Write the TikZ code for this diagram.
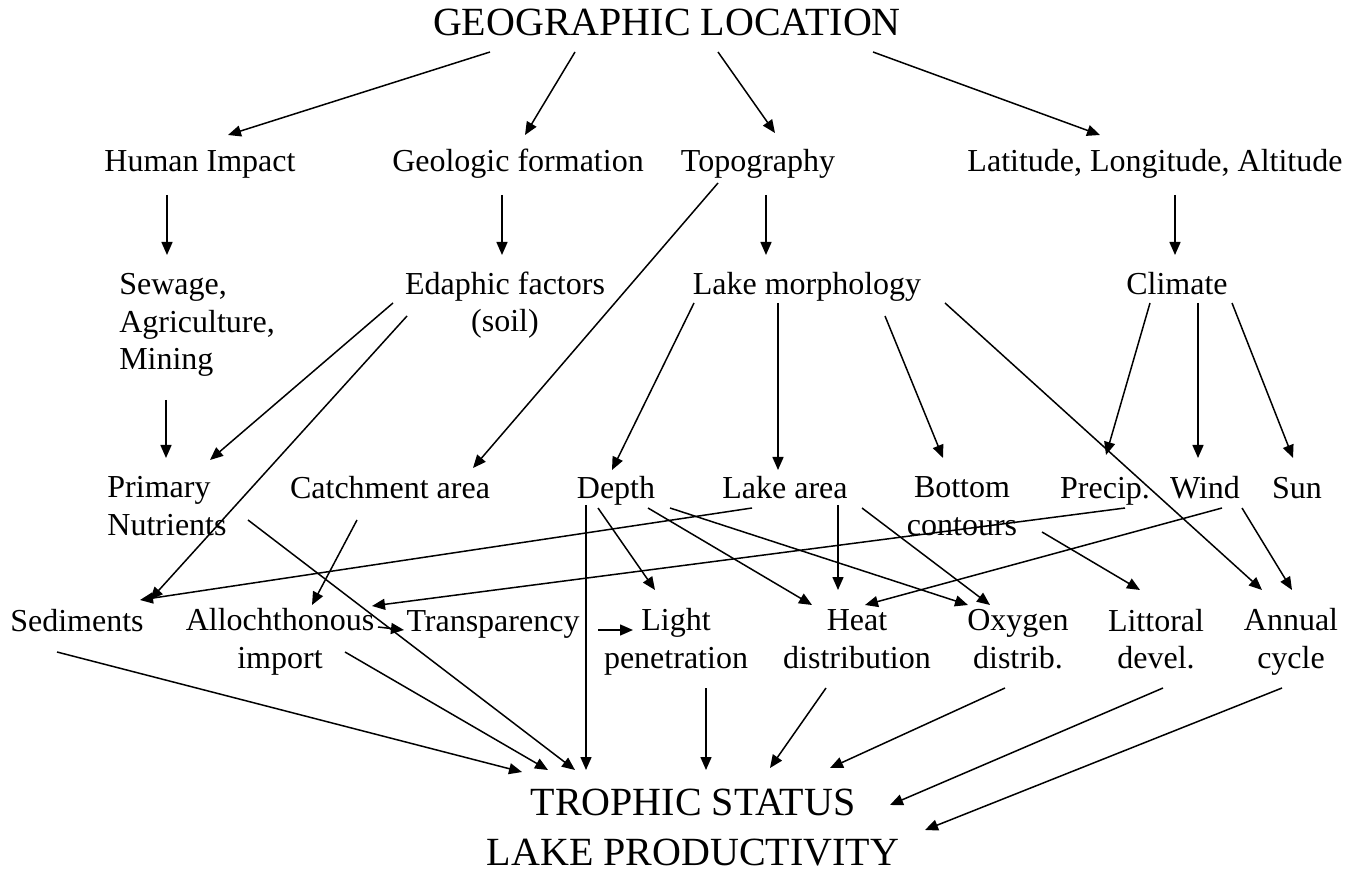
\documentclass[tikz,border=0pt]{standalone}
\usepackage{fontspec}
\setmainfont{Liberation Serif}
\usetikzlibrary{arrows.meta}

\begin{document}
\begin{tikzpicture}[x=0.5pt,y=-0.5pt,
  lbl/.style={inner sep=0pt, align=center, font=\fontsize{16}{18.75}\selectfont},
  one/.style={lbl, text height=11pt, text depth=0pt},
  ttl/.style={inner sep=0pt, align=center, font=\fontsize{20}{25}\selectfont},
  arr/.style={line width=0.75pt, -{Triangle[length=6.5pt,width=5.5pt]}}]
\useasboundingbox (0,0) rectangle (1355,871);

%top
\node[ttl] (geo) at (667,22) {GEOGRAPHIC LOCATION};
\node[one] (hum) at (200,161) {Human Impact};
\node[one] (geol) at (518,161) {Geologic formation};
\node[one] (topo) at (758,161) {Topography};
\node[one] (lat) at (1155,161) {Latitude, Longitude, Altitude};
%second row
\node[lbl,align=left] (sew) at (197,325) {Sewage,\\Agriculture,\\Mining};
\node[lbl] (eda) at (505,305) {Edaphic factors\\(soil)};
\node[one] (morph) at (807,284) {Lake morphology};
\node[one] (clim) at (1177,284) {Climate};
%third row
\node[lbl,align=left] (prim) at (167,506) {Primary\\Nutrients};
\node[one] (catch) at (390,488) {Catchment area};
\node[one] (dep) at (616,488) {Depth};
\node[one] (larea) at (785,488) {Lake area};
\node[lbl] (bott) at (962,506) {Bottom\\contours};
\node[one] (prec) at (1105,488) {Precip.};
\node[one] (wind) at (1205,488) {Wind};
\node[one] (sun) at (1297,488) {Sun};
%fourth row
\node[one] (sed) at (77,620) {Sediments};
\node[lbl] (allo) at (280,642) {Allochthonous\\import};
\node[one] (trans) at (493,620) {Transparency};
\node[lbl] (light) at (676,642) {Light\\penetration};
\node[lbl] (heat) at (857,639) {Heat\\distribution};
\node[lbl] (oxy) at (1018,639) {Oxygen\\distrib.};
\node[lbl] (litt) at (1156,639) {Littoral\\devel.};
\node[lbl] (ann) at (1291,642) {Annual\\cycle};
%bottom
\node[ttl] (troph) at (693,828) {TROPHIC STATUS\\LAKE PRODUCTIVITY};

%-------------------------------------------------
\draw[arr] ([shift={(-177,30)}]geo.center) -- ([shift={(28,-26)}]hum.center);
\draw[arr] ([shift={(-92,30)}]geo.center) -- ([shift={(7,-26)}]geol.center);
\draw[arr] ([shift={(51,30)}]geo.center) -- ([shift={(17,-28)}]topo.center);
\draw[arr] ([shift={(206,30)}]geo.center) -- ([shift={(-55,-26)}]lat.center);

\draw[arr] ([shift={(-33,34)}]hum.center) -- ([shift={(-30,-70)}]sew.center);
\draw[arr] ([shift={(-16,34)}]geol.center) -- ([shift={(-3,-50)}]eda.center);
\draw[arr] ([shift={(8,34)}]topo.center) -- ([shift={(-41,-29)}]morph.center);
\draw[arr] ([shift={(-40,22)}]topo.center) -- ([shift={(83,-20)}]catch.center);
\draw[arr] ([shift={(20,34)}]lat.center) -- ([shift={(-2,-29)}]clim.center);

%-------------------------------------------------
\draw[arr] ([shift={(-31,75)}]sew.center) -- ([shift={(-1,-48)}]prim.center);
\draw[arr] ([shift={(-112,-2)}]eda.center) -- ([shift={(43,-46)}]prim.center);
\draw[arr] ([shift={(-98,11)}]eda.center) -- ([shift={(73,-20)}]sed.center);
\draw[arr] ([shift={(-113,19)}]morph.center) -- ([shift={(-4,-18)}]dep.center);
\draw[arr] ([shift={(-29,19)}]morph.center) -- ([shift={(-7,-18)}]larea.center);
\draw[arr] ([shift={(78,32)}]morph.center) -- ([shift={(-19,-48)}]bott.center);
\draw[arr] ([shift={(138,19)}]morph.center) -- ([shift={(-29,-52)}]ann.center);
\draw[arr] ([shift={(-27,19)}]clim.center) -- ([shift={(1,-33)}]prec.center);
\draw[arr] ([shift={(21,19)}]clim.center) -- ([shift={(-7,-30)}]wind.center);
\draw[arr] ([shift={(55,19)}]clim.center) -- ([shift={(-4,-30)}]sun.center);

%-------------------------------------------------
\draw[arr] ([shift={(-33,20)}]larea.center) -- ([shift={(63,-20)}]sed.center);
\draw[arr] ([shift={(-33,32)}]catch.center) -- ([shift={(32,-37)}]allo.center);
\draw[arr] ([shift={(20,20)}]prec.center) -- ([shift={(92,-36)}]allo.center);
\draw[arr] ([shift={(98,-15)}]allo.center) -- ([shift={(-89,10)}]trans.center);
\draw[arr] ([shift={(105,10)}]trans.center) -- ([shift={(-43,-12)}]light.center);
\draw[arr] ([shift={(-18,20)}]dep.center) -- ([shift={(-21,-52)}]light.center);
\draw[arr] ([shift={(32,20)}]dep.center) -- ([shift={(-45,-34)}]heat.center);
\draw[arr] ([shift={(54,20)}]dep.center) -- ([shift={(-50,-34)}]oxy.center);
\draw[arr] ([shift={(53,17)}]larea.center) -- ([shift={(-19,-49)}]heat.center);
\draw[arr] ([shift={(77,20)}]larea.center) -- ([shift={(-28,-34)}]oxy.center);
\draw[arr] ([shift={(80,26)}]bott.center) -- ([shift={(-16,-49)}]litt.center);
\draw[arr] ([shift={(17,20)}]wind.center) -- ([shift={(8,-34)}]heat.center);
\draw[arr] ([shift={(37,20)}]wind.center) -- ([shift={(1,-52)}]ann.center);

%-------------------------------------------------
\draw[arr] ([shift={(-20,32)}]sed.center) -- ([shift={(-171,-56)}]troph.center);
\draw[arr] ([shift={(65,10)}]allo.center) -- ([shift={(-145,-58)}]troph.center);
\draw[arr] ([shift={(81,14)}]prim.center) -- ([shift={(-118,-58)}]troph.center);
\draw[arr] ([shift={(-30,17)}]dep.center) -- ([shift={(-107,-58)}]troph.center);
\draw[arr] ([shift={(30,46)}]light.center) -- ([shift={(13,-58)}]troph.center);
\draw[arr] ([shift={(-31,49)}]heat.center) -- ([shift={(77,-60)}]troph.center);
\draw[arr] ([shift={(-13,49)}]oxy.center) -- ([shift={(137,-60)}]troph.center);
\draw[arr] ([shift={(7,49)}]litt.center) -- ([shift={(197,-23)}]troph.center);
\draw[arr] ([shift={(-9,46)}]ann.center) -- ([shift={(232,2)}]troph.center);
\end{tikzpicture}
\end{document}
